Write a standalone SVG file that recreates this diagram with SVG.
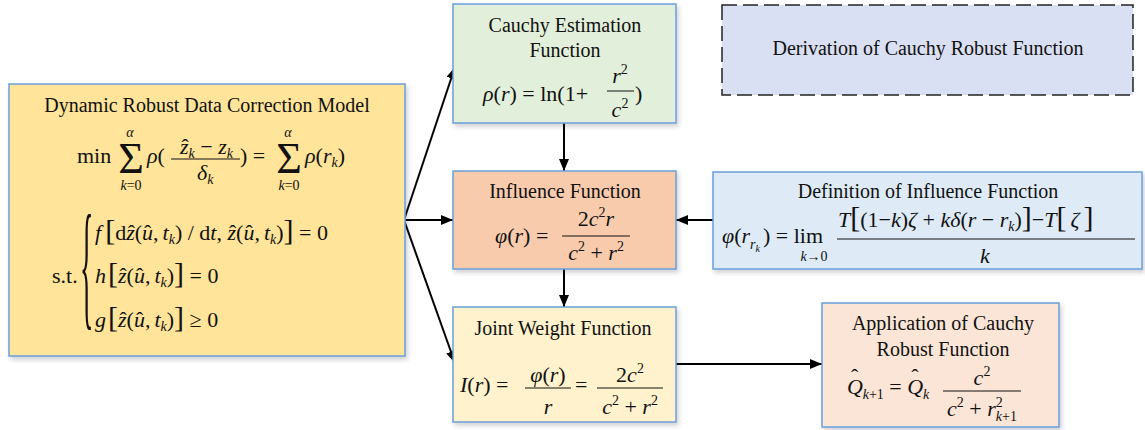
<svg xmlns="http://www.w3.org/2000/svg" width="1145" height="430" viewBox="0 0 1145 430">
<defs>
<style>
.box{stroke:#6A9FDB;stroke-width:1.5;filter:url(#sh)}
.t{font-family:"Liberation Serif","Times New Roman",serif;font-size:20px;fill:#111;text-anchor:middle}
.m{font-family:"Liberation Serif","Times New Roman",serif;font-size:22px;fill:#111}
.c{text-anchor:middle}
.i{font-style:italic}
.s{font-size:14px}
.ss{font-size:10px}
.br{font-size:30px}
.big{font-size:44px}
.brace{font-size:140px}
.fl{stroke:#111;stroke-width:1}
.conn{stroke:#000;stroke-width:2;fill:none;marker-end:url(#ah)}
</style>
<filter id="sh" x="-5%" y="-5%" width="115%" height="120%">
<feDropShadow dx="2" dy="3" stdDeviation="2" flood-color="#334" flood-opacity="0.22"/>
</filter>
<marker id="ah" viewBox="0 0 12 10" refX="12" refY="5" markerWidth="12" markerHeight="10" markerUnits="userSpaceOnUse" orient="auto">
<path d="M0,0 L12,5 L0,10 z" fill="#000"/>
</marker>
</defs>
<rect width="1145" height="430" fill="#fff"/>

<g id="connectors">
<line class="conn" x1="404" y1="220" x2="455" y2="67"/>
<line class="conn" x1="404" y1="220" x2="453" y2="220"/>
<line class="conn" x1="404" y1="220" x2="455" y2="363"/>
<line class="conn" x1="564" y1="123" x2="564" y2="171"/>
<line class="conn" x1="564" y1="269" x2="564" y2="307"/>
<line class="conn" x1="713" y1="220" x2="676" y2="220"/>
<line class="conn" x1="676" y1="364" x2="822" y2="364"/>
</g>

<g id="model">
<rect class="box" x="9" y="84" width="396" height="272" fill="#FFE499"/>
<text class="t" x="207" y="112">Dynamic Robust Data Correction Model</text>
<text class="m" x="77" y="163">min</text>
<text class="m c big" x="131" y="173">Σ</text>
<text class="m c i s" x="130" y="137">α</text>
<text class="m c s" x="131" y="190"><tspan class="i">k</tspan>=0</text>
<text class="m" x="147" y="163"><tspan class="i">ρ</tspan>(</text>
<text class="m" x="180" y="154"><tspan class="i">z</tspan><tspan dx="-7">ˆ</tspan><tspan class="s i" dx="-0.3" dy="4">k</tspan><tspan dy="-4"> − </tspan><tspan class="i">z</tspan><tspan class="s i" dy="4">k</tspan></text>
<line class="fl" x1="171" y1="159" x2="240" y2="159"/>
<text class="m" x="197" y="180"><tspan class="i">δ</tspan><tspan class="s i" dy="4">k</tspan></text>
<text class="m" x="240" y="163">) =</text>
<text class="m c big" x="289" y="173">Σ</text>
<text class="m c i s" x="288" y="137">α</text>
<text class="m c s" x="289" y="190"><tspan class="i">k</tspan>=0</text>
<text class="m" x="305" y="163"><tspan class="i">ρ</tspan>(<tspan class="i">r</tspan><tspan class="s i" dy="4">k</tspan><tspan dy="-4">)</tspan></text>

<text class="m" x="52" y="283">s.t.</text>
<text class="m brace" transform="translate(80,311) scale(0.2,1)">{</text>

<text class="m" x="95" y="240"><tspan class="i">f</tspan><tspan class="br" dx="4">[</tspan><tspan>d</tspan><tspan class="i">z</tspan><tspan dx="-7">ˆ</tspan><tspan dx="-0.3">(</tspan><tspan class="i">u</tspan><tspan dx="-9">ˆ</tspan><tspan dx="1.7">,</tspan><tspan class="i" dx="4">t</tspan><tspan class="s i" dy="4">k</tspan><tspan dy="-4">) / d</tspan><tspan class="i">t</tspan><tspan>, </tspan><tspan class="i">z</tspan><tspan dx="-7">ˆ</tspan><tspan dx="-0.3">(</tspan><tspan class="i">u</tspan><tspan dx="-9">ˆ</tspan><tspan dx="1.7">,</tspan><tspan class="i" dx="4">t</tspan><tspan class="s i" dy="4">k</tspan><tspan dy="-4">)</tspan><tspan class="br">]</tspan><tspan> = 0</tspan></text>

<text class="m" x="95" y="283"><tspan class="i">h</tspan><tspan class="br" dx="2">[</tspan><tspan class="i">z</tspan><tspan dx="-7">ˆ</tspan><tspan dx="-0.3">(</tspan><tspan class="i">u</tspan><tspan dx="-9">ˆ</tspan><tspan dx="1.7">,</tspan><tspan class="i" dx="4">t</tspan><tspan class="s i" dy="4">k</tspan><tspan dy="-4">)</tspan><tspan class="br">]</tspan><tspan> = 0</tspan></text>

<text class="m" x="95" y="327"><tspan class="i">g</tspan><tspan class="br" dx="2">[</tspan><tspan class="i">z</tspan><tspan dx="-7">ˆ</tspan><tspan dx="-0.3">(</tspan><tspan class="i">u</tspan><tspan dx="-9">ˆ</tspan><tspan dx="1.7">,</tspan><tspan class="i" dx="4">t</tspan><tspan class="s i" dy="4">k</tspan><tspan dy="-4">)</tspan><tspan class="br">]</tspan><tspan> ≥ 0</tspan></text>
</g>

<g id="cauchy">
<rect class="box" x="453" y="4" width="223" height="119" fill="#E2EFDA"/>
<text class="t" x="565" y="32">Cauchy Estimation</text>
<text class="t" x="565" y="57">Function</text>
<text class="m" x="483" y="101"><tspan class="i">ρ</tspan>(<tspan class="i">r</tspan>) = ln(1+</text>
<text class="m c" x="620" y="83"><tspan class="i">r</tspan><tspan class="s" dy="-9">2</tspan></text>
<line class="fl" x1="607" y1="91" x2="634" y2="91"/>
<text class="m c" x="620" y="117"><tspan class="i">c</tspan><tspan class="s" dy="-9">2</tspan></text>
<text class="m" x="635" y="101">)</text>
</g>

<g id="influence">
<rect class="box" x="453" y="171" width="223" height="98" fill="#F8CBAD"/>
<text class="t" x="565" y="198">Influence Function</text>
<text class="m" x="495" y="243"><tspan class="i">φ</tspan>(<tspan class="i">r</tspan>) =</text>
<text class="m c" x="596" y="226">2<tspan class="i">c</tspan><tspan class="s" dy="-9">2</tspan><tspan class="i" dy="9">r</tspan></text>
<line class="fl" x1="562" y1="236" x2="630" y2="236"/>
<text class="m c" x="596" y="260"><tspan class="i">c</tspan><tspan class="s" dy="-9">2</tspan><tspan dy="9"> + </tspan><tspan class="i">r</tspan><tspan class="s" dy="-9">2</tspan></text>
</g>

<g id="definition">
<rect class="box" x="713" y="172" width="429" height="97" fill="#DEEBF7"/>
<text class="t" x="928" y="198">Definition of Influence Function</text>
<text class="m" x="722" y="243"><tspan class="i">φ</tspan>(<tspan class="i">r</tspan><tspan class="s i" dy="6">r</tspan><tspan class="ss i" dy="3">k</tspan><tspan dy="-9" dx="3">) = lim</tspan></text>
<text class="m c s" x="814" y="261"><tspan class="i">k</tspan>→0</text>
<text class="m" x="838" y="227"><tspan class="i">T</tspan><tspan class="br">[</tspan>(1−<tspan class="i">k</tspan>)<tspan class="i">ζ</tspan> + <tspan class="i">kδ</tspan>(<tspan class="i">r</tspan> − <tspan class="i">r</tspan><tspan class="s i" dy="4">k</tspan><tspan dy="-4">)</tspan><tspan class="br">]</tspan>−<tspan class="i">T</tspan><tspan class="br">[</tspan><tspan class="i" dx="4">ζ</tspan><tspan class="br" dx="4">]</tspan></text>
<line class="fl" x1="837" y1="239" x2="1135" y2="239"/>
<text class="m c i" x="985" y="263">k</text>
</g>

<g id="joint">
<rect class="box" x="453" y="307" width="223" height="115" fill="#FFF2CC"/>
<text class="t" x="563" y="335">Joint Weight Function</text>
<text class="m" x="460" y="392"><tspan class="i">I</tspan>(<tspan class="i">r</tspan>) =</text>
<text class="m c" x="548" y="382"><tspan class="i">φ</tspan>(<tspan class="i">r</tspan>)</text>
<line class="fl" x1="525" y1="388" x2="571" y2="388"/>
<text class="m c i" x="548" y="414">r</text>
<text class="m" x="575" y="392">=</text>
<text class="m c" x="630" y="382">2<tspan class="i">c</tspan><tspan class="s" dy="-9">2</tspan></text>
<line class="fl" x1="597" y1="388" x2="663" y2="388"/>
<text class="m c" x="630" y="414"><tspan class="i">c</tspan><tspan class="s" dy="-9">2</tspan><tspan dy="9"> + </tspan><tspan class="i">r</tspan><tspan class="s" dy="-9">2</tspan></text>
</g>

<g id="application">
<rect class="box" x="822" y="303" width="237" height="124" fill="#FBE5D6"/>
<text class="t" x="943" y="330">Application of Cauchy</text>
<text class="t" x="943" y="356">Robust Function</text>
<text class="m" x="847" y="394"><tspan class="i">Q</tspan><tspan dx="-12" dy="-10">ˆ</tspan><tspan class="s i" dx="4.5" dy="15">k</tspan><tspan class="s">+1</tspan><tspan dy="-5"> = </tspan><tspan class="i">Q</tspan><tspan dx="-12" dy="-10">ˆ</tspan><tspan class="s i" dx="4.5" dy="15">k</tspan></text>
<text class="m c" x="982" y="385"><tspan class="i">c</tspan><tspan class="s" dy="-9">2</tspan></text>
<line class="fl" x1="943" y1="391" x2="1021" y2="391"/>
<text class="m c" x="982" y="416"><tspan class="i">c</tspan><tspan class="s" dy="-9">2</tspan><tspan dy="9"> + </tspan><tspan class="i">r</tspan><tspan class="s" dy="-9">2</tspan><tspan class="s i" dx="-7" dy="14">k</tspan><tspan class="s">+1</tspan></text>
</g>

<g id="derivation">
<rect x="722" y="5" width="411" height="90" fill="#DAE0F3" stroke="#222" stroke-width="1.5" stroke-dasharray="15,6"/>
<text class="t" x="928" y="55">Derivation of Cauchy Robust Function</text>
</g>
</svg>
